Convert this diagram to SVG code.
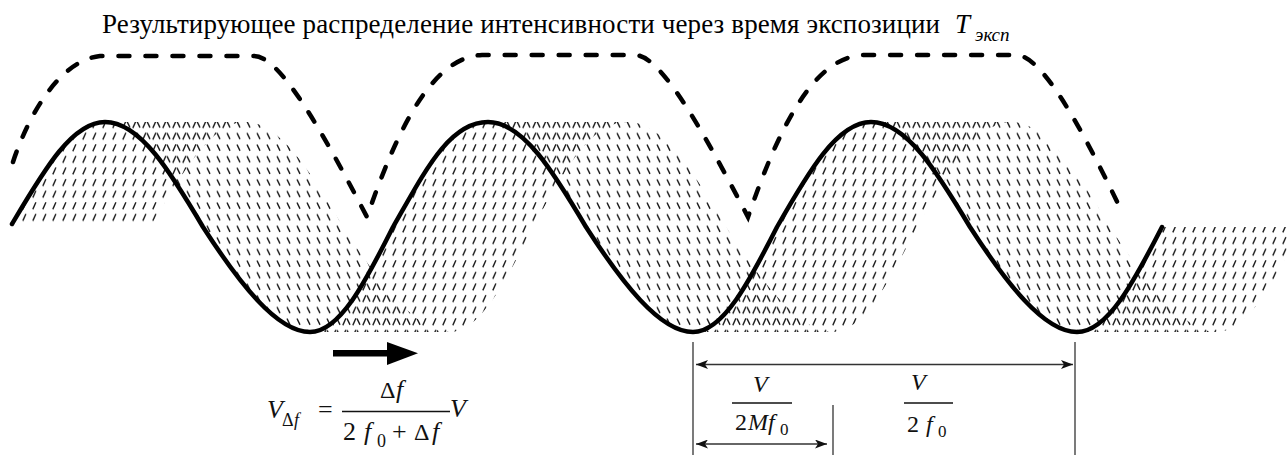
<svg xmlns="http://www.w3.org/2000/svg" width="1287" height="455" viewBox="0 0 1287 455">
<style>
.solid{fill:none;stroke:#000;stroke-width:4.5;stroke-linejoin:round;stroke-linecap:round}
.dash{fill:none;stroke:#000;stroke-width:4.5;stroke-dasharray:11 16;stroke-linecap:round}
.thin{stroke:#333;stroke-width:1.3;fill:none}
.bar{stroke:#111;stroke-width:1.3}
</style>
<defs>
<pattern id="hr" width="10" height="11.6" patternUnits="userSpaceOnUse" x="0" y="2">
<path d="M2.8,10 L5.9,3.2" stroke="#1a1a1a" stroke-width="1.4"/>
</pattern>
<pattern id="hf" width="10" height="11.6" patternUnits="userSpaceOnUse" x="4" y="2">
<path d="M3,3.4 L6,9.6" stroke="#1a1a1a" stroke-width="1.4"/>
</pattern>
<marker id="ah" viewBox="0 0 12 9" refX="12" refY="4.5" markerWidth="12" markerHeight="9" markerUnits="userSpaceOnUse" orient="auto-start-reverse">
<path d="M0,0 L12,4.5 L0,9 L3,4.5 Z" fill="#111"/>
</marker>
</defs>
<rect width="1287" height="455" fill="#fff"/>

<g id="title">
<text x="102" y="33" font-size="27" textLength="838" lengthAdjust="spacing" style="font-family:'Liberation Serif',serif">Результирующее распределение интенсивности через время экспозиции</text>
<text x="955" y="33" font-size="27" font-style="italic" style="font-family:'Liberation Serif',serif">T</text>
<text x="975" y="41" font-size="19" font-style="italic" style="font-family:'Liberation Serif',serif">эксп</text>
</g>

<g id="hatch">
<path fill="url(#hr)" d="M12,224 C42.7,172.4 71.5,122 105,122 L245,122 C211.5,122 182.7,172.4 152,224 Z"/>
<path fill="url(#hr)" d="M310,332 C339.9,332 365.6,281.6 393,227 C424.4,172.4 448.8,122 488,122 L628,122 C588.8,122 564.4,172.4 533,227 C505.6,281.6 479.9,332 450,332 Z"/>
<path fill="url(#hr)" d="M693,332 C723.2,332 749.3,281.6 777,227 C808,172.4 837.2,122 871,122 L1011,122 C977.2,122 948,172.4 917,227 C889.3,281.6 863.2,332 833,332 Z"/>
<path fill="url(#hr)" d="M1077,332 C1107.6,332 1134,281.6 1162,227 L1302,227 C1274,281.6 1247.6,332 1217,332 Z"/>
<path fill="url(#hf)" d="M105,122 C140.3,122 170.7,172.4 203,227 C238.3,281.6 276.5,332 310,332 L450,332 C416.5,332 378.3,281.6 343,227 C310.7,172.4 280.3,122 245,122 Z"/>
<path fill="url(#hf)" d="M488,122 C523.3,122 553.7,172.4 586,227 C621.3,281.6 659.5,332 693,332 L833,332 C799.5,332 761.3,281.6 726,227 C693.7,172.4 663.3,122 628,122 Z"/>
<path fill="url(#hf)" d="M871,122 C906.6,122 937.3,172.4 970,227 C1005.3,281.6 1043.5,332 1077,332 L1217,332 C1183.5,332 1145.3,281.6 1110,227 C1077.3,172.4 1046.6,122 1011,122 Z"/>
</g>

<g id="wave">
<path class="solid" d="M12,224 C42.7,172.4 71.5,122 105,122 C140.3,122 170.7,172.4 203,227 C238.3,281.6 276.5,332 310,332 C339.9,332 365.6,281.6 393,227 C424.4,172.4 448.8,122 488,122 C523.3,122 553.7,172.4 586,227 C621.3,281.6 659.5,332 693,332 C723.2,332 749.3,281.6 777,227 C808,172.4 837.2,122 871,122 C906.6,122 937.3,172.4 970,227 C1005.3,281.6 1043.5,332 1077,332 C1107.6,332 1134,281.6 1162,227"/>
</g>

<g id="intensity">
<path class="dash" d="M13,162 C20,140 50,62 100,56 L254,56 C279,56 319,125 367,217 C397,130 432,57 482,55 L635,55 C660,55 700,125 748,217 C778,130 813,57 863,55 L1016,55 C1041,55 1079,122 1122,212"/>
</g>

<g id="motion-arrow">
<rect x="333" y="350" width="57" height="6.5" fill="#000"/>
<path d="M387,342 L418,353.2 L387,365 Z" fill="#000"/>
</g>

<g id="formula-left" fill="#111">
<text x="267" y="418" font-size="26" font-style="italic" style="font-family:'Liberation Serif',serif">V</text>
<text x="282" y="426" font-size="18" style="font-family:'Liberation Serif',serif">Δ</text>
<text x="294" y="426" font-size="18" font-style="italic" style="font-family:'Liberation Serif',serif">f</text>
<text x="318" y="418" font-size="26" style="font-family:'Liberation Serif',serif">=</text>
<line class="bar" x1="342" y1="411.5" x2="450" y2="411.5"/>
<text x="380" y="398" font-size="24" style="font-family:'Liberation Serif',serif">Δ</text>
<text x="396" y="398" font-size="26" font-style="italic" style="font-family:'Liberation Serif',serif">f</text>
<text x="343" y="440" font-size="26" style="font-family:'Liberation Serif',serif">2</text>
<text x="364" y="440" font-size="26" font-style="italic" style="font-family:'Liberation Serif',serif">f</text>
<text x="377" y="447" font-size="18" style="font-family:'Liberation Serif',serif">0</text>
<text x="392" y="440" font-size="26" style="font-family:'Liberation Serif',serif">+</text>
<text x="414" y="440" font-size="24" style="font-family:'Liberation Serif',serif">Δ</text>
<text x="432" y="440" font-size="26" font-style="italic" style="font-family:'Liberation Serif',serif">f</text>
<text x="450" y="417" font-size="26" font-style="italic" style="font-family:'Liberation Serif',serif">V</text>
</g>

<g id="connectors">
<line class="thin" x1="693" y1="342" x2="693" y2="455"/>
<line class="thin" x1="1075" y1="342" x2="1075" y2="455"/>
<line class="thin" x1="833" y1="405" x2="833" y2="455"/>
<line class="thin" x1="696" y1="364.5" x2="1073" y2="364.5" marker-start="url(#ah)" marker-end="url(#ah)"/>
<line class="thin" x1="696" y1="444" x2="827" y2="444" marker-start="url(#ah)" marker-end="url(#ah)"/>
</g>

<g id="label-small" fill="#111">
<text x="753" y="392" font-size="24" font-style="italic" style="font-family:'Liberation Serif',serif">V</text>
<line class="bar" x1="732" y1="403" x2="792" y2="403"/>
<text x="735" y="430" font-size="24" style="font-family:'Liberation Serif',serif">2</text>
<text x="748" y="430" font-size="24" font-style="italic" style="font-family:'Liberation Serif',serif">Mf</text>
<text x="780" y="435" font-size="17" style="font-family:'Liberation Serif',serif">0</text>
</g>

<g id="label-large" fill="#111">
<text x="911" y="390" font-size="24" font-style="italic" style="font-family:'Liberation Serif',serif">V</text>
<line class="bar" x1="904" y1="403" x2="953" y2="403"/>
<text x="907" y="432" font-size="24" style="font-family:'Liberation Serif',serif">2</text>
<text x="926" y="432" font-size="24" font-style="italic" style="font-family:'Liberation Serif',serif">f</text>
<text x="938" y="437" font-size="17" style="font-family:'Liberation Serif',serif">0</text>
</g>
</svg>
